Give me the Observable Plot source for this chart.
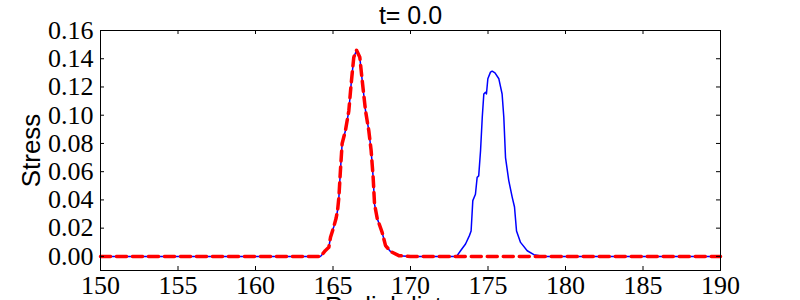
<!DOCTYPE html>
<html><head><meta charset="utf-8">
<script src="https://cdn.jsdelivr.net/npm/d3@7"></script>
<script src="https://cdn.jsdelivr.net/npm/@observablehq/plot@0.6"></script>
<style>body{margin:0;background:#fff;} svg{display:block;}</style>
</head><body><div id="chart"></div>
<script>
const titleText = "t= 0.0";
const xLabel = "Radial distance";
const yLabel = "Stress";
const xTicks = [150, 155, 160, 165, 170, 175, 180, 185, 190];
const yTicks = [0, 0.02, 0.04, 0.06, 0.08, 0.10, 0.12, 0.14, 0.16];

// blue solid series
const blueR = [150, 164.2, 164.5, 164.73, 164.84, 165.05, 165.2, 165.3, 165.38, 165.48, 165.59, 165.8, 166.02, 166.17, 166.34, 166.52, 166.73, 166.88, 167.1, 167.31, 167.46, 167.59, 167.68, 167.85, 168.17, 168.39, 168.71, 169.25, 170,
  172.97, 173.23, 173.55, 173.8, 173.91, 174.02, 174.19, 174.3, 174.4, 174.52, 174.63, 174.73, 174.84, 174.9, 174.99, 175.16, 175.27, 175.45, 175.7, 175.91, 176.02, 176.13, 176.34, 176.56, 176.71, 176.84, 177.1, 177.53, 177.96, 178.6, 190];
const blueS = [0, 0, 0.004, 0.0064, 0.0135, 0.021, 0.027, 0.033, 0.042, 0.061, 0.080, 0.089, 0.103, 0.122, 0.141, 0.146, 0.141, 0.125, 0.103, 0.089, 0.075, 0.056, 0.037, 0.027, 0.017, 0.0076, 0.0035, 0.0005, 0,
  0, 0.004, 0.0088, 0.0147, 0.018, 0.0395, 0.044, 0.056, 0.057, 0.075, 0.0986, 0.115, 0.1163, 0.115, 0.1258, 0.1305, 0.1312, 0.130, 0.1258, 0.115, 0.0986, 0.070, 0.0537, 0.042, 0.035, 0.018, 0.0099, 0.004, 0.0012, 0, 0];

// red dashed series
const redR = [150, 164.2, 164.5, 164.73, 164.84, 165.05, 165.2, 165.3, 165.38, 165.48, 165.59, 165.8, 166.02, 166.17, 166.34, 166.52, 166.73, 166.88, 167.1, 167.31, 167.46, 167.59, 167.68, 167.85, 168.17, 168.39, 168.71, 169.25, 170, 190];
const redS = [0, 0, 0.004, 0.0064, 0.0135, 0.021, 0.027, 0.033, 0.042, 0.061, 0.080, 0.089, 0.103, 0.122, 0.141, 0.146, 0.141, 0.125, 0.103, 0.089, 0.075, 0.056, 0.037, 0.027, 0.017, 0.0076, 0.0035, 0.0005, 0, 0];

const blue = blueR.map((r, i) => ({r, s: blueS[i]}));
const red = redR.map((r, i) => ({r, s: redS[i]}));

const W = 800, H = 300, mL = 100, mR = 80, mT = 30, mB = 30;
const innerW = W - mL - mR, innerH = H - mT - mB, tk = 4;
const serif = "'Liberation Serif', 'DejaVu Serif', serif";
const sans = "'Liberation Sans', Arial, sans-serif";

const chart = Plot.plot({
  width: W, height: H,
  marginLeft: mL, marginRight: mR, marginTop: mT, marginBottom: mB,
  style: {background: "#fff", color: "#000"},
  x: {domain: [150, 190]},
  y: {domain: [-0.01, 0.16]},
  marks: [
    Plot.line(blue, {x: "r", y: "s", stroke: "#0000ff", strokeWidth: 1.5}),
    Plot.line(red, {x: "r", y: "s", stroke: "#ff0000", strokeWidth: 3.5, strokeDasharray: "10,6"}),
    Plot.frame({stroke: "#000", strokeWidth: 1}),
    Plot.ruleX(xTicks, {x: d => d, insetTop: innerH - tk, stroke: "#000"}),
    Plot.ruleX(xTicks, {x: d => d, insetBottom: innerH - tk, stroke: "#000"}),
    Plot.ruleY(yTicks, {y: d => d, insetRight: innerW - tk, stroke: "#000"}),
    Plot.ruleY(yTicks, {y: d => d, insetLeft: innerW - tk, stroke: "#000"}),
    Plot.axisX({ticks: xTicks, tickSize: 0, tickPadding: 5, tickFormat: d => String(d), label: null, fontSize: 26, fontFamily: serif, fill: "#000"}),
    Plot.axisY({ticks: yTicks, tickSize: 0, tickPadding: 7, tickFormat: d3.format(".2f"), label: null, fontSize: 26, fontFamily: serif, fill: "#000"}),
    Plot.text([titleText], {frameAnchor: "top", dy: -7, textAnchor: "middle", lineAnchor: "bottom", fontSize: 25, fontFamily: sans, fill: "#000"}),
    Plot.text([yLabel], {frameAnchor: "left", dx: -61, rotate: -90, textAnchor: "middle", lineAnchor: "bottom", fontSize: 26, fontFamily: sans, fill: "#000"}),
    Plot.text([xLabel], {frameAnchor: "bottom", dy: 44, textAnchor: "middle", lineAnchor: "bottom", fontSize: 25, fontFamily: sans, fill: "#000"})
  ]
});
document.getElementById("chart").appendChild(chart);
</script>
</body></html>
